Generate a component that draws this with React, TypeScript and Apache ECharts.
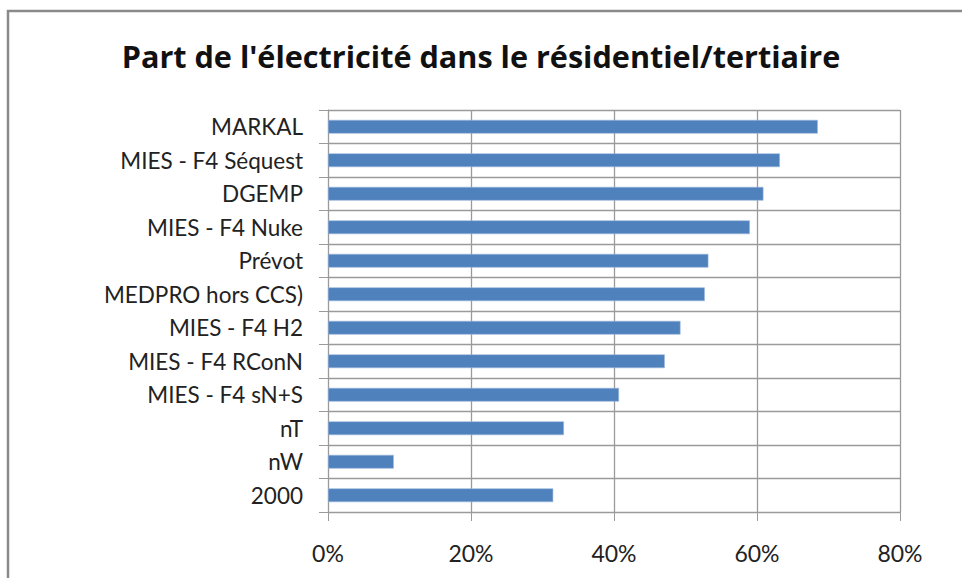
import React, { useEffect, useRef } from "react";
import * as echarts from "echarts";

const title = "Part de l'électricité dans le résidentiel/tertiaire";
const categories = [
  "2000",
  "nW",
  "nT",
  "MIES - F4 sN+S",
  "MIES - F4 RConN",
  "MIES - F4 H2",
  "MEDPRO hors CCS)",
  "Prévot",
  "MIES - F4 Nuke",
  "DGEMP",
  "MIES - F4 Séquest",
  "MARKAL",
];
const shares = [0.315, 0.092, 0.33, 0.407, 0.471, 0.493, 0.527, 0.532, 0.59, 0.609, 0.632, 0.685];
const xTicks = { min: 0, max: 0.8, interval: 0.2 };

export default function App() {
  const ref = useRef<HTMLDivElement>(null);
  useEffect(() => {
    if (!ref.current) return;
    const chart = echarts.init(ref.current, null, { renderer: "svg" });
    const gridColor = "#9a9a9a";
    const font = "Lato, 'Open Sans', sans-serif";
    chart.setOption({
      animation: false,
      backgroundColor: "#ffffff",
      title: {
        text: title,
        left: "center",
        top: 35,
        padding: [5, 0, 5, 15],
        textStyle: {
          fontFamily: "'Open Sans', sans-serif",
          fontWeight: "bold",
          fontSize: 30.6,
          color: "#111",
        },
      },
      graphic: [
        {
          type: "rect",
          shape: { x: 8, y: 11, width: 1000, height: 700 },
          style: { fill: "none", stroke: "#8a8a8a", lineWidth: 2.5 },
          silent: true,
        },
      ],
      grid: { left: 328, top: 110, right: 62, bottom: 66, containLabel: false },
      xAxis: {
        type: "value",
        min: xTicks.min,
        max: xTicks.max,
        interval: xTicks.interval,
        axisLine: { show: true, lineStyle: { color: gridColor } },
        axisTick: { show: true, length: 9, lineStyle: { color: gridColor } },
        splitLine: { show: true, lineStyle: { color: gridColor, width: 1.3 } },
        axisLabel: {
          margin: 29,
          fontFamily: font,
          fontSize: 23,
          color: "#222",
          formatter: (v: number) => Math.round(v * 100) + "%",
        },
      },
      yAxis: {
        type: "category",
        data: categories,
        axisLine: { show: true, lineStyle: { color: gridColor } },
        axisTick: { show: true, length: 9, alignWithLabel: false, lineStyle: { color: gridColor } },
        splitLine: { show: true, lineStyle: { color: gridColor, width: 1.3 } },
        axisLabel: {
          margin: 25,
          fontFamily: font,
          fontSize: 22.5,
          color: "#222",
        },
      },
      series: [
        {
          type: "bar",
          data: shares,
          barWidth: "41%",
          itemStyle: { color: "#4F81BD", borderColor: "#9bb7dc", borderWidth: 0.6 },
        },
      ],
    });
    return () => chart.dispose();
  }, []);
  return (
    <div
      ref={ref}
      style={{ position: "absolute", left: 0, top: 0, width: 962, height: 578 }}
    />
  );
}
